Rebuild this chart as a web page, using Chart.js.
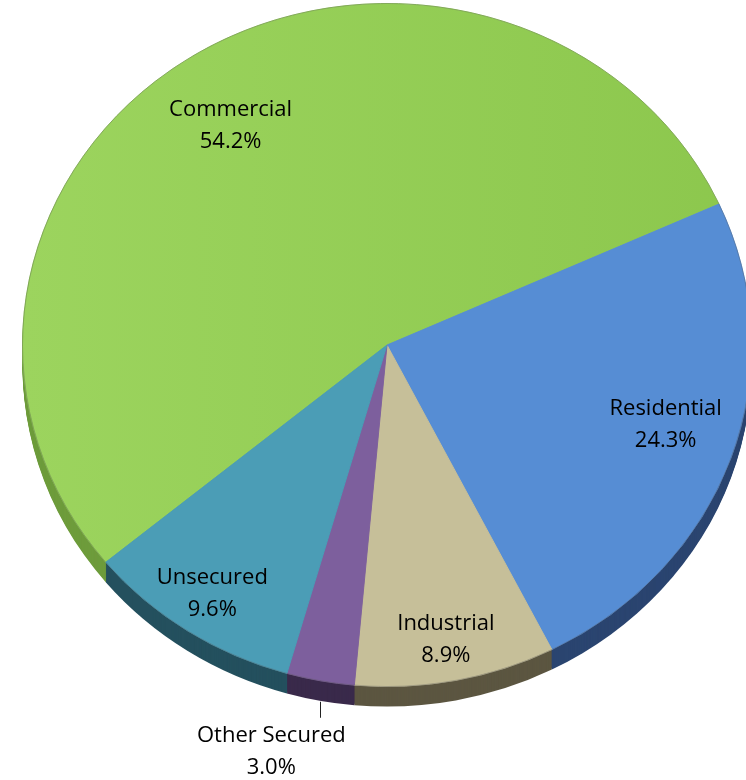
<!DOCTYPE html>
<html>
<head>
<meta charset="utf-8">
<script src="https://cdn.jsdelivr.net/npm/chart.js@4.4.0/dist/chart.umd.min.js"></script>
<style>
  html, body { margin: 0; padding: 0; background: #fff; overflow: hidden; }
  #wrap { width: 780px; height: 780px; }
</style>
</head>
<body>
<div id="wrap"><canvas id="loanPie" width="780" height="780"></canvas></div>
<script>
// data
const categories = ['Commercial', 'Residential', 'Industrial', 'Other Secured', 'Unsecured'];
const shares = [54.2, 24.3, 8.9, 3.0, 9.6];
const shareLabels = ['54.2%', '24.3%', '8.9%', '3.0%', '9.6%'];

// look
const topColors = ['#94ce56', '#568dd4', '#c6bf99', '#7d5f9d', '#4b9db6'];
const sideColors = ['#6e9c3c', '#2b4570', '#5c5641', '#3a2a4b', '#24505e'];
const depth = 20;          // thickness of the pie edge
const centerY = 345;       // where the squashed pie is drawn
const squash = 342 / 365;  // vertical / horizontal radius
const labelRadius = { 'Commercial': 0.78, 'Residential': 0.79, 'Industrial': 0.87, 'Unsecured': 0.86 };
// small hand nudges so the labels sit where the original put them
const labelNudge = { 'Commercial': [-6, 7], 'Residential': [7, -10], 'Industrial': [-1, 3], 'Unsecured': [-3, 3], 'Other Secured': [0, 5] };

function squashAt(ctx, arc, off) {
  ctx.translate(arc.x, centerY + off);
  ctx.scale(1, squash);
  ctx.translate(-arc.x, -arc.y);
}

const pie3d = {
  id: 'pie3d',
  beforeDatasetsDraw(chart) {
    const ctx = chart.ctx;
    const arcs = chart.getDatasetMeta(0).data;
    // side wall: stacked copies shifted down, darker
    for (let d = depth; d > 0; d--) {
      arcs.forEach((a, i) => {
        ctx.save();
        squashAt(ctx, a, d);
        ctx.beginPath();
        ctx.moveTo(a.x, a.y);
        ctx.arc(a.x, a.y, a.outerRadius, a.startAngle, a.endAngle);
        ctx.closePath();
        ctx.fillStyle = sideColors[i];
        ctx.fill();
        ctx.restore();
      });
    }
    ctx.save();
    squashAt(ctx, arcs[0], 0);
  },
  afterDatasetsDraw(chart) {
    const ctx = chart.ctx;
    const arcs = chart.getDatasetMeta(0).data;
    // thin rim line on the top face
    const a0 = arcs[0];
    ctx.beginPath();
    ctx.arc(a0.x, a0.y, a0.outerRadius, 0, Math.PI * 2);
    ctx.lineWidth = 1;
    ctx.strokeStyle = 'rgba(90,90,90,0.35)';
    ctx.stroke();
    ctx.restore();

    ctx.save();
    ctx.font = '22px "Open Sans"';
    ctx.fillStyle = '#000';
    ctx.textAlign = 'center';
    ctx.textBaseline = 'middle';
    arcs.forEach((a, i) => {
      const name = categories[i];
      const mid = (a.startAngle + a.endAngle) / 2;
      const R = a.outerRadius;
      const nudge = labelNudge[name] || [0, 0];
      if (labelRadius[name]) {
        const r = labelRadius[name] * R;
        const x = a.x + Math.cos(mid) * r + nudge[0];
        const y = centerY + Math.sin(mid) * r * squash + nudge[1];
        ctx.fillText(name, x, y - 16);
        ctx.fillText(shareLabels[i], x, y + 16);
      } else {
        // small slice: label below with a short leader
        const x = a.x + Math.cos(mid) * R;
        const y = centerY + Math.sin(mid) * R * squash + depth - 4 + nudge[1];
        ctx.beginPath();
        ctx.moveTo(Math.round(x) + 0.5, y);
        ctx.lineTo(Math.round(x) + 0.5, y + 16);
        ctx.strokeStyle = '#222';
        ctx.lineWidth = 1;
        ctx.stroke();
        ctx.fillText(name, x - 49, y + 34);
        ctx.fillText(shareLabels[i], x - 49, y + 66);
      }
    });
    ctx.restore();
  }
};

const ctx = document.getElementById('loanPie').getContext('2d');
new Chart(ctx, {
  type: 'pie',
  data: {
    labels: categories,
    datasets: [{
      data: shares,
      backgroundColor: function(context) {
        const chart = context.chart;
        const i = context.dataIndex;
        if (i === 0 && chart.chartArea) {
          const g = chart.ctx.createLinearGradient(chart.chartArea.left, 0, chart.chartArea.right, 0);
          g.addColorStop(0, '#9cd45e');
          g.addColorStop(1, '#8cc74d');
          return g;
        }
        return topColors[i];
      },
      borderColor: topColors,
      borderWidth: 1
    }]
  },
  options: {
    responsive: false,
    animation: false,
    rotation: 230.5,
    layout: { padding: { left: 22, right: 28, top: 0, bottom: 50 } },
    plugins: {
      legend: { display: false },
      tooltip: { enabled: false }
    }
  },
  plugins: [pie3d]
});
</script>
</body>
</html>
